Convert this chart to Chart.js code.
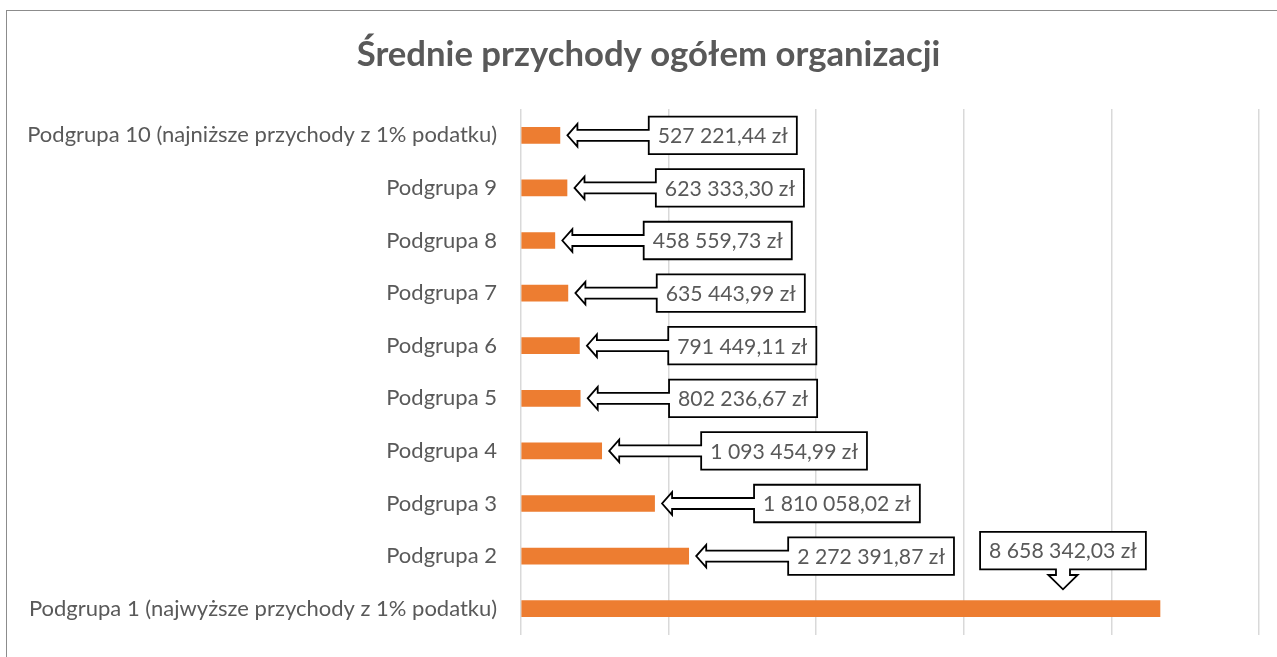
<!DOCTYPE html>
<html>
<head>
<meta charset="utf-8">
<script src="https://cdn.jsdelivr.net/npm/chart.js@4"></script>
<style>
  html, body { margin: 0; padding: 0; background: #fff; overflow: hidden; width: 1277px; height: 657px; }
  #frame { position: absolute; left: 6px; top: 10px; width: 1320px; height: 720px; border: 1.5px solid #8c8c8c; background: #fff; }
  #wrap { position: absolute; left: 0; top: 0; width: 1297px; height: 657px; }
</style>
</head>
<body>
<div id="frame"></div>
<div id="wrap"><canvas id="c" width="1297" height="657"></canvas></div>
<script>
const chartTitle = "Średnie przychody ogółem organizacji";
const categories = [
  "Podgrupa 10 (najniższe przychody z 1% podatku)",
  "Podgrupa 9",
  "Podgrupa 8",
  "Podgrupa 7",
  "Podgrupa 6",
  "Podgrupa 5",
  "Podgrupa 4",
  "Podgrupa 3",
  "Podgrupa 2",
  "Podgrupa 1 (najwyższe przychody z 1% podatku)"
];
const values = [527221.44, 623333.30, 458559.73, 635443.99, 791449.11, 802236.67, 1093454.99, 1810058.02, 2272391.87, 8658342.03];
const axisMin = 0;
const axisMax = 10000000;
const axisStep = 2000000;

const TXT = '#595959';
const FONT = 'Lato, "Open Sans", sans-serif';

function formatPLN(v) {
  const parts = v.toFixed(2).split('.');
  const intPart = parts[0].replace(/\B(?=(\d{3})+(?!\d))/g, ' ');
  return intPart + ',' + parts[1] + ' zł';
}

const titlePlugin = {
  id: 'customTitle',
  afterDraw(chart) {
    const ctx = chart.ctx;
    ctx.save();
    ctx.font = 'bold 34.7px ' + FONT;
    ctx.fillStyle = TXT;
    ctx.textAlign = 'center';
    ctx.textBaseline = 'alphabetic';
    ctx.fillText(chartTitle, chart.width / 2, 66);
    ctx.restore();
  }
};

const calloutPlugin = {
  id: 'callouts',
  afterDatasetsDraw(chart) {
    const ctx = chart.ctx;
    const meta = chart.getDatasetMeta(0);
    ctx.save();
    ctx.font = '21.2px ' + FONT;
    ctx.lineWidth = 1.8;
    ctx.lineJoin = 'miter';
    ctx.strokeStyle = '#000';
    meta.data.forEach((bar, i) => {
      const text = formatPLN(values[i]);
      const tw = ctx.measureText(text).width;
      const w = tw + 18;
      const h = 37.5;
      const ex = bar.x, cy = bar.y;
      let tx, ty;
      ctx.beginPath();
      if (i === meta.data.length - 1) {
        const cx = ex - 97;
        const tipY = cy - 19.4;
        const headY = tipY - 14.3;
        const bBot = cy - 39.4;
        const bTop = bBot - h;
        const bL = cx - w / 2, bR = cx + w / 2;
        const sh = 7, hh = 14.7;
        ctx.moveTo(bL, bTop);
        ctx.lineTo(bR, bTop);
        ctx.lineTo(bR, bBot);
        ctx.lineTo(cx + sh, bBot);
        ctx.lineTo(cx + sh, headY);
        ctx.lineTo(cx + hh, headY);
        ctx.lineTo(cx, tipY);
        ctx.lineTo(cx - hh, headY);
        ctx.lineTo(cx - sh, headY);
        ctx.lineTo(cx - sh, bBot);
        ctx.lineTo(bL, bBot);
        ctx.closePath();
        tx = cx; ty = (bTop + bBot) / 2;
      } else {
        const tip = ex + 7.5;
        const head = tip + 10;
        const bL = ex + 0.6 * w;
        const bR = bL + w;
        const bTop = cy - h / 2, bBot = cy + h / 2;
        const sh = 5.5, hh = 11.3;
        ctx.moveTo(bL, bTop);
        ctx.lineTo(bR, bTop);
        ctx.lineTo(bR, bBot);
        ctx.lineTo(bL, bBot);
        ctx.lineTo(bL, cy + sh);
        ctx.lineTo(head, cy + sh);
        ctx.lineTo(head, cy + hh);
        ctx.lineTo(tip, cy);
        ctx.lineTo(head, cy - hh);
        ctx.lineTo(head, cy - sh);
        ctx.lineTo(bL, cy - sh);
        ctx.closePath();
        tx = (bL + bR) / 2; ty = cy;
      }
      ctx.fillStyle = '#fff';
      ctx.fill();
      ctx.stroke();
      ctx.fillStyle = TXT;
      ctx.textAlign = 'center';
      ctx.textBaseline = 'middle';
      ctx.fillText(text, tx, ty + 1);
    });
    ctx.restore();
  }
};

new Chart(document.getElementById('c'), {
  type: 'bar',
  data: {
    labels: categories,
    datasets: [{
      data: values,
      backgroundColor: '#ED7D31',
      borderWidth: 0,
      barThickness: 16
    }]
  },
  options: {
    indexAxis: 'y',
    responsive: false,
    animation: false,
    layout: { padding: { top: 109, right: 38, bottom: 22, left: 0 } },
    plugins: {
      legend: { display: false },
      tooltip: { enabled: false },
      title: { display: false }
    },
    scales: {
      x: {
        min: axisMin,
        max: axisMax,
        ticks: { stepSize: axisStep, display: false },
        grid: { color: '#d9d9d9', lineWidth: 1.5, drawTicks: false },
        border: { display: false },
        afterFit(scale) { scale.height = 0; }
      },
      y: {
        grid: { display: false, drawTicks: false },
        border: { display: false },
        ticks: { color: TXT, font: { family: FONT, size: 22 }, padding: 24, autoSkip: false },
        afterFit(scale) {
          scale.width = 521;
          scale.paddingTop = 0;
          scale.paddingBottom = 0;
        }
      }
    }
  },
  plugins: [titlePlugin, calloutPlugin]
});
</script>
</body>
</html>
